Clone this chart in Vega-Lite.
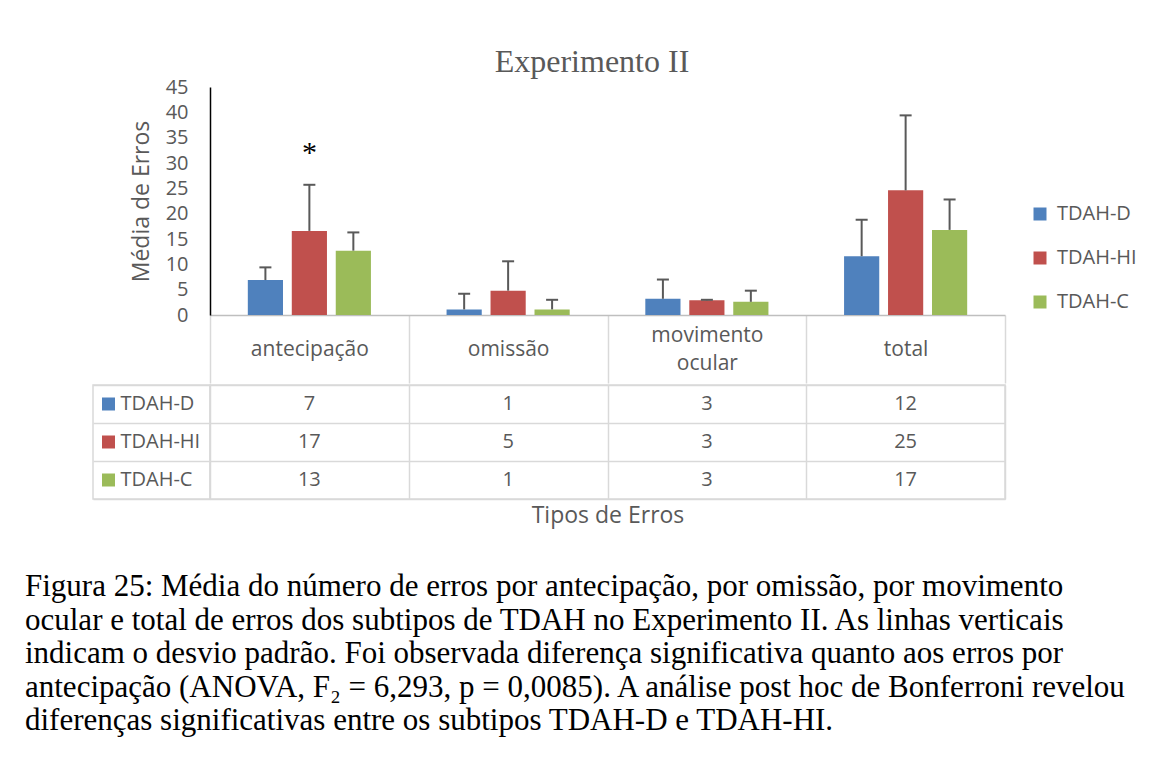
{
  "$schema": "https://vega.github.io/schema/vega-lite/v6.json",
  "background": "white",
  "padding": {"left": 25, "top": 46, "right": 5, "bottom": 5},
  "datasets": {
    "medias": [
      {"tipo": "antecipação", "grupo": "TDAH-D", "media": 6.9, "superior": 9.4},
      {"tipo": "antecipação", "grupo": "TDAH-HI", "media": 16.6, "superior": 25.7},
      {"tipo": "antecipação", "grupo": "TDAH-C", "media": 12.7, "superior": 16.3},
      {"tipo": "omissão", "grupo": "TDAH-D", "media": 1.1, "superior": 4.2},
      {"tipo": "omissão", "grupo": "TDAH-HI", "media": 4.8, "superior": 10.6},
      {"tipo": "omissão", "grupo": "TDAH-C", "media": 1.1, "superior": 3.0},
      {"tipo": "movimento ocular", "grupo": "TDAH-D", "media": 3.2, "superior": 7.0},
      {"tipo": "movimento ocular", "grupo": "TDAH-HI", "media": 2.9, "superior": 3.0},
      {"tipo": "movimento ocular", "grupo": "TDAH-C", "media": 2.6, "superior": 4.8},
      {"tipo": "total", "grupo": "TDAH-D", "media": 11.6, "superior": 18.8},
      {"tipo": "total", "grupo": "TDAH-HI", "media": 24.6, "superior": 39.4},
      {"tipo": "total", "grupo": "TDAH-C", "media": 16.8, "superior": 22.8}
    ],
    "grupos": [
      {"grupo": "TDAH-D"},
      {"grupo": "TDAH-HI"},
      {"grupo": "TDAH-C"}
    ],
    "asterisco": [
      {"tipo": "antecipação", "grupo": "TDAH-HI", "valor": 32.0, "texto": "*"}
    ]
  },
  "title": {
    "text": "Experimento II",
    "font": "Liberation Serif",
    "fontSize": 32,
    "fontWeight": "normal",
    "color": "#595959",
    "anchor": "middle",
    "frame": "group",
    "dx": 499,
    "offset": -2
  },
  "config": {
    "font": "Open Sans",
    "view": {"stroke": "#d9d9d9", "strokeWidth": 1.5},
    "axis": {
      "labelFont": "Open Sans",
      "titleFont": "Open Sans",
      "labelColor": "#595959",
      "titleColor": "#595959",
      "labelFontSize": 20,
      "titleFontSize": 23,
      "titleFontWeight": "normal"
    }
  },
  "spacing": 0,
  "resolve": {"scale": {"color": "independent"}, "legend": {"color": "independent"}},
  "vconcat": [
    {
      "bounds": "flush",
      "spacing": 0,
      "hconcat": [
        {
          "width": 117,
          "height": 228,
          "view": {"stroke": null},
          "data": {"values": [{}]},
          "mark": {"type": "text"},
          "encoding": {}
        },
        {
          "width": 795,
          "height": 228,
          "view": {"stroke": null},
          "data": {"name": "medias"},
          "encoding": {
            "x": {
              "field": "tipo",
              "type": "nominal",
              "scale": {"domain": ["antecipação", "omissão", "movimento ocular", "total"], "paddingInner": 0, "paddingOuter": 0},
              "axis": {
                "orient": "bottom",
                "title": null,
                "domainColor": "#bfbfbf",
                "domainWidth": 1.5,
                "tickBand": "extent",
                "tickColor": "#d9d9d9",
                "tickWidth": 1.5,
                "tickSize": 68,
                "labelPadding": -34,
                "labelFontSize": 21,
                "labelBaseline": {"condition": {"test": "datum.value == 'movimento ocular'", "value": "line-bottom"}, "value": "middle"},
                "labelAngle": 0,
                "labelLimit": 0,
                "labelLineHeight": 28,
                "labelExpr": "datum.value == 'movimento ocular' ? ['movimento', 'ocular'] : datum.value"
              }
            },
            "xOffset": {
              "field": "grupo",
              "type": "nominal",
              "scale": {"domain": ["TDAH-D", "TDAH-HI", "TDAH-C"], "paddingInner": 0.2, "paddingOuter": 0.86}
            }
          },
          "layer": [
            {
              "mark": {"type": "bar"},
              "encoding": {
                "y": {
                  "field": "media",
                  "type": "quantitative",
                  "scale": {"domain": [0, 45], "nice": false},
                  "axis": {"values": [0, 5, 10, 15, 20, 25, 30, 35, 40, 45], "labelOverlap": false, "domain": true, "domainColor": "#000000", "domainWidth": 1.5, "ticks": false, "grid": false, "labelPadding": 22, "title": "Média de Erros", "titlePadding": 12}
                },
                "color": {
                  "field": "grupo",
                  "type": "nominal",
                  "scale": {"domain": ["TDAH-D", "TDAH-HI", "TDAH-C"], "range": ["#4F81BD", "#C0504D", "#9BBB59"]},
                  "legend": {
                    "orient": "none",
                    "legendX": 937,
                    "legendY": 117,
                    "title": null,
                    "symbolType": "square",
                    "symbolSize": 169,
                    "symbolStrokeWidth": 0,
                    "symbolOpacity": 1,
                    "labelFont": "Open Sans",
                    "labelFontSize": 20,
                    "labelColor": "#595959",
                    "labelOffset": 7,
                    "labelLimit": 0,
                    "rowPadding": 24,
                    "padding": 0
                  }
                }
              }
            },
            {
              "mark": {"type": "rule", "color": "#595959", "strokeWidth": 2},
              "encoding": {
                "y": {
                  "field": "media",
                  "type": "quantitative",
                  "axis": {"values": [0, 5, 10, 15, 20, 25, 30, 35, 40, 45], "labelOverlap": false, "domain": true, "domainColor": "#000000", "domainWidth": 1.5, "ticks": false, "grid": false, "labelPadding": 22, "title": "Média de Erros", "titlePadding": 12}
                },
                "y2": {"field": "superior"}
              }
            },
            {
              "mark": {"type": "tick", "color": "#595959", "thickness": 2, "size": 12, "opacity": 1},
              "encoding": {
                "y": {
                  "field": "superior",
                  "type": "quantitative",
                  "axis": {"values": [0, 5, 10, 15, 20, 25, 30, 35, 40, 45], "labelOverlap": false, "domain": true, "domainColor": "#000000", "domainWidth": 1.5, "ticks": false, "grid": false, "labelPadding": 22, "title": "Média de Erros", "titlePadding": 12}
                }
              }
            },
            {
              "data": {"name": "asterisco"},
              "mark": {"type": "text", "font": "Liberation Serif", "fontSize": 30, "color": "#000000", "baseline": "middle"},
              "encoding": {
                "y": {
                  "field": "valor",
                  "type": "quantitative",
                  "axis": {"values": [0, 5, 10, 15, 20, 25, 30, 35, 40, 45], "labelOverlap": false, "domain": true, "domainColor": "#000000", "domainWidth": 1.5, "ticks": false, "grid": false, "labelPadding": 22, "title": "Média de Erros", "titlePadding": 12}
                },
                "text": {"field": "texto"}
              }
            }
          ]
        }
      ]
    },
    {
      "bounds": "flush",
      "spacing": 0,
      "hconcat": [
        {
          "width": 117,
          "height": 114,
          "data": {"name": "grupos"},
          "encoding": {
            "y": {
              "field": "grupo",
              "type": "nominal",
              "scale": {"domain": ["TDAH-D", "TDAH-HI", "TDAH-C"], "paddingInner": 0, "paddingOuter": 0},
              "axis": {"title": null, "labels": false, "ticks": false, "domain": false, "grid": true, "tickBand": "extent", "gridColor": "#d9d9d9", "gridWidth": 1.5}
            }
          },
          "layer": [
            {
              "mark": {"type": "point", "shape": "square", "filled": true, "size": 169, "xOffset": -43, "opacity": 1},
              "encoding": {
                "color": {
                  "field": "grupo",
                  "type": "nominal",
                  "scale": {"domain": ["TDAH-D", "TDAH-HI", "TDAH-C"], "range": ["#4F81BD", "#C0504D", "#9BBB59"]},
                  "legend": null
                }
              }
            },
            {
              "mark": {"type": "text", "align": "left", "dx": -31, "baseline": "middle", "font": "Open Sans", "fontSize": 20, "color": "#595959"},
              "encoding": {"text": {"field": "grupo"}}
            }
          ]
        },
        {
          "width": 795,
          "height": 114,
          "data": {"name": "medias"},
          "mark": {"type": "text", "font": "Open Sans", "fontSize": 20, "color": "#595959", "baseline": "middle"},
          "encoding": {
            "x": {
              "field": "tipo",
              "type": "nominal",
              "scale": {"domain": ["antecipação", "omissão", "movimento ocular", "total"], "paddingInner": 0, "paddingOuter": 0},
              "axis": {"title": "Tipos de Erros", "labels": false, "ticks": false, "domain": false, "grid": true, "tickBand": "extent", "gridColor": "#d9d9d9", "gridWidth": 1.5, "titlePadding": 5}
            },
            "y": {
              "field": "grupo",
              "type": "nominal",
              "scale": {"domain": ["TDAH-D", "TDAH-HI", "TDAH-C"], "paddingInner": 0, "paddingOuter": 0},
              "axis": {"title": null, "labels": false, "ticks": false, "domain": false, "grid": true, "tickBand": "extent", "gridColor": "#d9d9d9", "gridWidth": 1.5}
            },
            "text": {"field": "media", "type": "quantitative", "format": ".0f"}
          }
        }
      ]
    },
    {
      "width": 912,
      "height": 30,
      "view": {"stroke": null},
      "data": {"values": [{}]},
      "mark": {"type": "text"},
      "encoding": {},
      "title": {
        "text": [
          "Figura 25: Média do número de erros por antecipação, por omissão, por movimento",
          "ocular e total de erros dos subtipos de TDAH no Experimento II.  As linhas verticais",
          "indicam o desvio padrão. Foi observada diferença significativa quanto aos erros por",
          "antecipação (ANOVA, F₂ = 6,293, p = 0,0085). A análise post hoc de Bonferroni revelou",
          "diferenças significativas entre os subtipos TDAH-D e TDAH-HI."
        ],
        "orient": "bottom",
        "anchor": "start",
        "frame": "group",
        "dx": -68,
        "offset": 14,
        "baseline": "top",
        "font": "Liberation Serif",
        "fontSize": 31,
        "fontWeight": "normal",
        "color": "#000000",
        "lineHeight": 33.5
      }
    }
  ]
}
